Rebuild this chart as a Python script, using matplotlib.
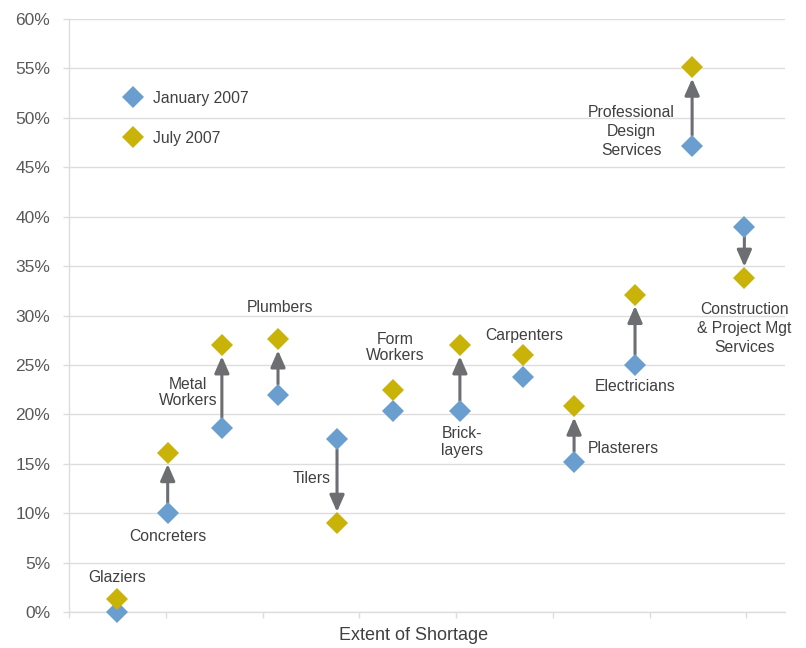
import matplotlib
matplotlib.use("Agg")
import matplotlib.pyplot as plt
from matplotlib.ticker import FuncFormatter, MultipleLocator

plt.rcParams['font.family'] = ['Liberation Sans', 'DejaVu Sans']

# Trades, their position along the "extent of shortage" axis, and the share
# of firms reporting a shortage (%) in January and July 2007.
trades = ["Glaziers", "Concreters", "Metal\nWorkers", "Plumbers", "Tilers",
          "Form\nWorkers", "Brick-\nlayers", "Carpenters", "Plasterers",
          "Electricians", "Professional\nDesign\nServices",
          "Construction\n& Project Mgt\nServices"]
x_pos = [0.50, 1.02, 1.58, 2.16, 2.77, 3.35, 4.04, 4.69, 5.22, 5.85, 6.44, 6.98]
jan_2007 = [0.0, 10.0, 18.6, 22.0, 17.5, 20.3, 20.3, 23.8, 15.2, 25.0, 47.2, 39.0]
jul_2007 = [1.3, 16.1, 27.0, 27.6, 9.0, 22.5, 27.0, 26.0, 20.8, 32.1, 55.1, 33.8]
show_arrow = [False, True, True, True, True, False, True, False, True, True, True, True]

# Label anchor (x, y in data units) for each trade
label_x = [0.50, 1.02, 1.23, 2.18, 2.51, 3.37, 4.06, 4.71, 5.73, 5.85, 5.81, 6.98]
label_y = [3.5, 7.6, 22.2, 30.8, 13.5, 26.8, 17.2, 28.0, 16.5, 22.8, 48.6, 28.7]

BLUE = "#6A9ECE"
GOLD = "#C9B308"
ARROW = "#6D6E71"
GRID = "#DDDDDD"
TEXT = "#404040"

fig = plt.figure(figsize=(8.06, 6.48), dpi=100)
ax = fig.add_axes([69 / 806, 1 - 612 / 648, (785 - 69) / 806, (612 - 19) / 648])

ax.set_xlim(0, 7.40)
ax.set_ylim(0, 60)

ax.yaxis.set_major_locator(MultipleLocator(5))
ax.yaxis.set_major_formatter(FuncFormatter(lambda v, p: f"{v:.0f}%"))
ax.xaxis.set_major_locator(MultipleLocator(1))
ax.set_xticklabels([])
ax.grid(axis='y', color=GRID, linewidth=1.0, zorder=0)
ax.set_axisbelow(True)

for side in ("top", "right"):
    ax.spines[side].set_visible(False)
for side in ("left", "bottom"):
    ax.spines[side].set_color(GRID)
    ax.spines[side].set_linewidth(1.0)

ax.tick_params(axis='y', length=4.5, width=1.0, color=GRID, pad=9,
               labelsize=12.5, labelcolor="#595959")
ax.tick_params(axis='x', length=4.0, width=1.0, color=GRID)

# Arrows showing the move from January to July
for xi, a, b, show in zip(x_pos, jan_2007, jul_2007, show_arrow):
    if not show:
        continue
    ax.annotate("", xy=(xi, b), xytext=(xi, a),
                arrowprops=dict(arrowstyle="-|>,head_length=0.5,head_width=0.22",
                                mutation_scale=20, color=ARROW, lw=2.2,
                                shrinkA=7.5, shrinkB=8),
                zorder=2)

ax.plot(x_pos, jan_2007, linestyle="none", marker="D", markersize=11.5,
        color=BLUE, markeredgewidth=0, label="January 2007", zorder=3,
        clip_on=False)
ax.plot(x_pos, jul_2007, linestyle="none", marker="D", markersize=11.5,
        color=GOLD, markeredgewidth=0, label="July 2007", zorder=3,
        clip_on=False)

for name, lx, ly in zip(trades, label_x, label_y):
    spacing = 1.32 if name.count("\n") >= 2 else 1.1
    ax.text(lx, ly, name, ha="center", va="center", fontsize=11.3,
            color=TEXT, linespacing=spacing, zorder=4)

leg = ax.legend(loc="upper left", bbox_to_anchor=(0.070, 0.890), frameon=False,
                fontsize=11.3, labelspacing=1.6, handlelength=1.0,
                handletextpad=0.75, numpoints=1, borderaxespad=0)
for t in leg.get_texts():
    t.set_color(TEXT)

fig.text(414 / 806, 1 - 635 / 648, "Extent of Shortage", ha="center", va="center",
         fontsize=13, color=TEXT)

fig.savefig("out.png", dpi=100)
